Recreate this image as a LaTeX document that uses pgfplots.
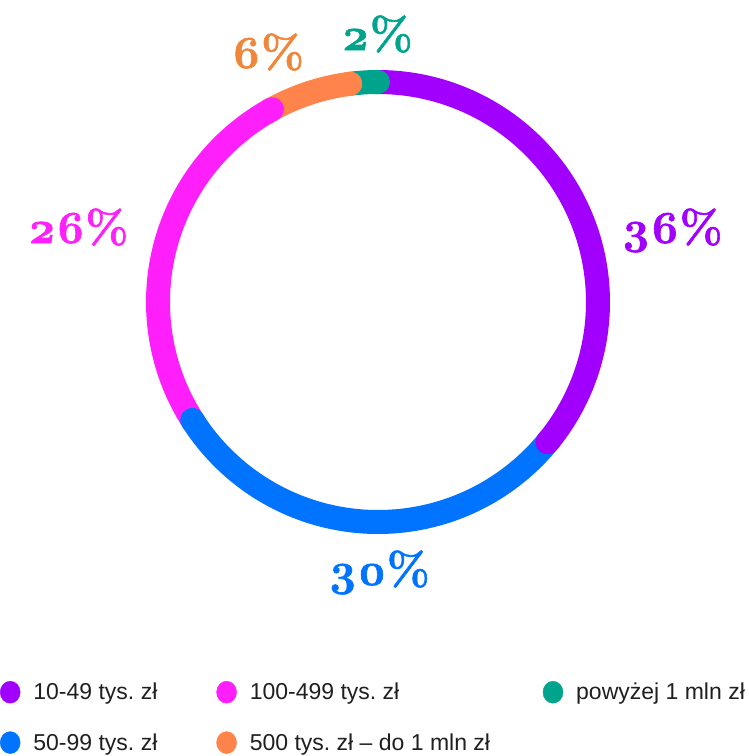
\documentclass[border=0pt]{standalone}
\usepackage{pgfplots}
\pgfplotsset{compat=1.18}
\usepackage{pgfplotstable}
\usepackage{fontspec}
\setmainfont{Liberation Sans}
\newfontfamily\pctfont[Numbers=OldStyle, BoldFeatures={FakeBold=1.3}]{Latin Modern Roman}
\definecolor{purpleC}{HTML}{A100FF}
\definecolor{blueC}{HTML}{0073FF}
\definecolor{magentaC}{HTML}{FF1FFA}
\definecolor{orangeC}{HTML}{FF844B}
\definecolor{tealC}{HTML}{00A38C}
\definecolor{orangeL}{HTML}{F0863A}
\pgfplotstableread{
pct
36
30
26
6
2
}\ringdata
\begin{document}
\begin{tikzpicture}
\pgfplotstablegetelem{0}{pct}\of\ringdata \edef\pA{\pgfplotsretval}
\pgfplotstablegetelem{1}{pct}\of\ringdata \edef\pB{\pgfplotsretval}
\pgfplotstablegetelem{2}{pct}\of\ringdata \edef\pC{\pgfplotsretval}
\pgfplotstablegetelem{3}{pct}\of\ringdata \edef\pD{\pgfplotsretval}
\pgfplotstablegetelem{4}{pct}\of\ringdata \edef\pE{\pgfplotsretval}
\pgfmathsetmacro\eA{3.6*\pA}
\pgfmathsetmacro\eB{\eA+3.6*\pB}
\pgfmathsetmacro\eC{\eB+3.6*\pC}
\pgfmathsetmacro\eD{\eC+3.6*\pD}
\pgfmathsetmacro\eE{\eD+3.6*\pE}
\begin{axis}[x=1pt, y=1pt, xmin=0, xmax=748, ymin=0, ymax=756,
  y dir=reverse, hide axis, scale only axis, clip=false,
  legend columns=3,
  legend cell align=left,
  legend style={at={(axis cs:0,681)}, anchor=north west, draw=none, fill=none,
    inner sep=0pt, outer sep=0pt, row sep=28pt, column sep=0pt,
    font=\frenchspacing\fontsize{23}{27}\selectfont,
    nodes={inner sep=0pt, text=black!88}},
  ]
\path (axis cs:0,0) rectangle (axis cs:748,756);
% ring segments (butt ends)
\addplot[forget plot, purpleC, line width=24pt, domain=0:\eA, samples=120, variable=\t] ({378+220*sin(\t)},{302-220*cos(\t)});
\addplot[forget plot, blueC, line width=24pt, domain=\eA:\eB, samples=100, variable=\t] ({378+220*sin(\t)},{302-220*cos(\t)});
\addplot[forget plot, magentaC, line width=24pt, domain=\eB:\eC, samples=100, variable=\t] ({378+220*sin(\t)},{302-220*cos(\t)});
\addplot[forget plot, orangeC, line width=24pt, domain=\eC:\eD, samples=40, variable=\t] ({378+220*sin(\t)},{302-220*cos(\t)});
\addplot[forget plot, tealC, line width=24pt, domain=\eD:\eE, samples=20, variable=\t] ({378+220*sin(\t)},{302-220*cos(\t)});
% rounded ends of each segment
\addplot[forget plot, purpleC, line width=24pt, line cap=round, domain=\eA-1:\eA, samples=2, variable=\t] ({378+220*sin(\t)},{302-220*cos(\t)});
\addplot[forget plot, blueC, line width=24pt, line cap=round, domain=\eB-1:\eB, samples=2, variable=\t] ({378+220*sin(\t)},{302-220*cos(\t)});
\addplot[forget plot, magentaC, line width=24pt, line cap=round, domain=\eC-1:\eC, samples=2, variable=\t] ({378+220*sin(\t)},{302-220*cos(\t)});
\addplot[forget plot, orangeC, line width=24pt, line cap=round, domain=\eD-1:\eD, samples=2, variable=\t] ({378+220*sin(\t)},{302-220*cos(\t)});
\addplot[forget plot, tealC, line width=24pt, line cap=round, domain=\eE-1:\eE, samples=2, variable=\t] ({378+220*sin(\t)},{302-220*cos(\t)});
% labels
\node[anchor=base, text=purpleC, font=\pctfont\bfseries\fontsize{46}{55}\selectfont] at (axis cs:672,243) {36\%};
\node[anchor=base, text=blueC, font=\pctfont\bfseries\fontsize{46}{55}\selectfont] at (axis cs:379,585) {30\%};
\node[anchor=base, text=magentaC, font=\pctfont\bfseries\fontsize{46}{55}\selectfont] at (axis cs:78,243) {26\%};
\node[anchor=base, text=orangeL, font=\pctfont\bfseries\fontsize{46}{55}\selectfont] at (axis cs:268,68) {6\%};
\node[anchor=base, text=tealC, font=\pctfont\bfseries\fontsize{46}{55}\selectfont] at (axis cs:377,50) {2\%};
% legend
\addlegendimage{legend image code/.code={\fill[purpleC] (10pt,0pt) ellipse (10pt and 11pt);}}
\addlegendentry{\makebox[196pt][l]{\hspace*{13pt}10-49 tys. zł}}
\addlegendimage{legend image code/.code={\fill[magentaC] (10pt,0pt) ellipse (10pt and 11pt);}}
\addlegendentry{\makebox[306pt][l]{\hspace*{13pt}100-499 tys. zł}}
\addlegendimage{legend image code/.code={\fill[tealC] (10pt,0pt) ellipse (10pt and 11pt);}}
\addlegendentry{\hspace*{13pt}powyżej 1 mln zł}
\addlegendimage{legend image code/.code={\fill[blueC] (10pt,0pt) ellipse (10pt and 11pt);}}
\addlegendentry{\makebox[196pt][l]{\hspace*{13pt}50-99 tys. zł}}
\addlegendimage{legend image code/.code={\fill[orangeC] (10pt,0pt) ellipse (10pt and 11pt);}}
\addlegendentry{\makebox[306pt][l]{\hspace*{13pt}500 tys. zł – do 1 mln zł}}
\end{axis}
\end{tikzpicture}
\end{document}
